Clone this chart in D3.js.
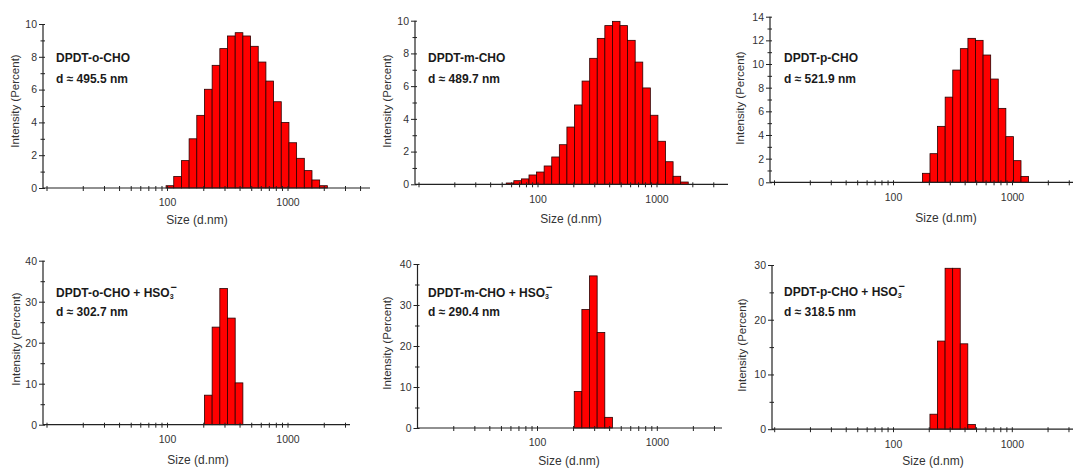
<!DOCTYPE html>
<html>
<head>
<meta charset="utf-8">
<script src="https://cdn.jsdelivr.net/npm/d3@7"></script>
<style>
  body { margin: 0; background: #fff; }
  svg text { font-family: "Liberation Sans", Arial, sans-serif; }
</style>
</head>
<body>
<div id="plot"></div>
<script>
// Size classes (d.nm) and intensity (%)
const sizesO = [105.7, 122.4, 141.8, 164.2, 190.1, 220.2, 255.0, 295.3, 342.0, 396.1, 458.7,
                531.2, 615.1, 712.4, 825.0, 955.4, 1106, 1281, 1484, 1718, 1990];
const intensityO = [0.14, 0.7, 1.67, 3.0, 4.43, 6.02, 7.48, 8.5, 9.27, 9.47, 9.27,
                    8.64, 7.68, 6.52, 5.26, 4.0, 2.76, 1.81, 1.06, 0.49, 0.14];

const sizesM = [58.77, 68.06, 78.82, 91.28, 105.7, 122.4, 141.8, 164.2, 190.1, 220.2, 255.0, 295.3,
                342.0, 396.1, 458.7, 531.2, 615.1, 712.4, 825.0, 955.4, 1106, 1281, 1484, 1718];
const intensityM = [0.08, 0.22, 0.33, 0.57, 0.75, 1.12, 1.67, 2.42, 3.5, 4.85, 6.31, 7.7,
                    8.92, 9.7, 9.96, 9.7, 8.8, 7.47, 5.89, 4.22, 2.63, 1.38, 0.49, 0.14];

const sizesP = [190.1, 220.2, 255.0, 295.3, 342.0, 396.1, 458.7, 531.2, 615.1, 712.4, 825.0, 955.4, 1106, 1281];
const intensityP = [0.76, 2.42, 4.73, 7.2, 9.49, 11.3, 12.17, 12.0, 10.76, 8.73, 6.25, 3.86, 1.83, 0.5];

const sizesOH = [220.2, 255.0, 295.3, 342.0, 396.1];
const intensityOH = [7.2, 23.8, 33.2, 26.0, 10.2];

const sizesMH = [220.2, 255.0, 295.3, 342.0, 396.1];
const intensityMH = [8.9, 28.9, 37.1, 23.3, 2.6];

const sizesPH = [220.2, 255.0, 295.3, 342.0, 396.1, 458.7];
const intensityPH = [2.74, 16.1, 29.4, 29.4, 15.6, 0.85];

// Tick values
const xTicks = [10, 20, 30, 40, 50, 60, 70, 80, 90, 100, 200, 300, 400, 500, 600, 700, 800, 900,
                1000, 2000, 3000, 4000, 5000];
const xTickLabels = [100, 1000];
const yMajor10 = [0, 2, 4, 6, 8, 10], yMinor10 = [1, 3, 5, 7, 9];
const yMajor14 = [0, 2, 4, 6, 8, 10, 12, 14], yMinor14 = [1, 3, 5, 7, 9, 11, 13];
const yMajor40 = [0, 10, 20, 30, 40], yMinor40 = [5, 15, 25, 35];
const yMajor30 = [0, 10, 20, 30], yMinor30 = [5, 15, 25];

const names = ["DPDT-o-CHO", "DPDT-m-CHO", "DPDT-p-CHO"];
const diameters = ["d \u2248 495.5 nm", "d \u2248 489.7 nm", "d \u2248 521.9 nm",
                   "d \u2248 302.7 nm", "d \u2248 290.4 nm", "d \u2248 318.5 nm"];

// Panel layout (pixel positions copied from the composite figure)
const panels = [
  { name: names[0], d: diameters[0], sizes: sizesO, values: intensityO, yMax: 10, major: yMajor10, minor: yMinor10,
    L: { x0: 43, x100: 167, decade: 120.5, xEnd: 370, y0: 188, yTop: 24, tx: 56, ty: 62, ty2: 83, xtX: 197, xtY: 224, ytX: 15, ytY: 101 } },
  { name: names[1], d: diameters[1], sizes: sizesM, values: intensityM, yMax: 10, major: yMajor10, minor: yMinor10,
    L: { x0: 415, x100: 537.5, decade: 119, xEnd: 728, y0: 184.3, yTop: 20.7, tx: 428, ty: 62, ty2: 83, xtX: 571, xtY: 223, ytX: 387, ytY: 101 } },
  { name: names[2], d: diameters[2], sizes: sizesP, values: intensityP, yMax: 14, major: yMajor14, minor: yMinor14,
    L: { x0: 770, x100: 893, decade: 119, xEnd: 1073, y0: 182.3, yTop: 16.7, tx: 784, ty: 62, ty2: 83, xtX: 946, xtY: 222, ytX: 740, ytY: 98 } },
  { name: names[0], hso: true, d: diameters[3], sizes: sizesOH, values: intensityOH, yMax: 40, major: yMajor40, minor: yMinor40,
    L: { x0: 43, x100: 167, decade: 120.5, xEnd: 350, y0: 424.7, yTop: 260.7, tx: 56, ty: 297, ty2: 316, xtX: 198, xtY: 464, ytX: 16, ytY: 339 } },
  { name: names[1], hso: true, d: diameters[4], sizes: sizesMH, values: intensityMH, yMax: 40, major: yMajor40, minor: yMinor40,
    L: { x0: 417.5, x100: 537, decade: 119.8, xEnd: 722, y0: 428, yTop: 264, tx: 428, ty: 297, ty2: 316, xtX: 569, xtY: 465, ytX: 387, ytY: 343 } },
  { name: names[2], hso: true, d: diameters[5], sizes: sizesPH, values: intensityPH, yMax: 30, major: yMajor30, minor: yMinor30,
    L: { x0: 772, x100: 893, decade: 118.8, xEnd: 1073, y0: 429.2, yTop: 265, tx: 784, ty: 296, ty2: 316, xtX: 933, xtY: 465, ytX: 742, ytY: 345 } }
];

const svg = d3.select("#plot")
  .append("svg")
  .attr("width", 1073)
  .attr("height", 468);

panels.forEach(p => {
  const L = p.L;
  const ref = d3.scaleLog().domain([100, 1000]).range([L.x100, L.x100 + L.decade]);
  const x = d3.scaleLog()
    .domain([ref.invert(L.x0), ref.invert(L.xEnd)])
    .range([L.x0, L.xEnd]);
  const y = d3.scaleLinear().domain([0, p.yMax]).range([L.y0, L.yTop]);

  const g = svg.append("g");

  // bars: edges at geometric midpoints between neighbouring size classes
  const bars = p.sizes.map((s, i) => {
    const prev = i > 0 ? p.sizes[i - 1] : s * s / p.sizes[i + 1];
    const next = i < p.sizes.length - 1 ? p.sizes[i + 1] : s * s / p.sizes[i - 1];
    return { lo: Math.sqrt(prev * s), hi: Math.sqrt(s * next), v: p.values[i] };
  });

  g.selectAll("rect")
    .data(bars)
    .join("rect")
    .attr("x", d => x(d.lo))
    .attr("width", d => x(d.hi) - x(d.lo))
    .attr("y", d => y(d.v))
    .attr("height", d => y(0) - y(d.v))
    .attr("fill", "#ff0000")
    .attr("stroke", "#2a0000")
    .attr("stroke-width", 0.8);

  // x axis
  const xAxis = g.append("g")
    .attr("transform", `translate(0,${L.y0})`)
    .call(d3.axisBottom(x)
      .tickValues(xTicks.filter(t => x(t) >= L.x0 + 1 && x(t) <= L.xEnd))
      .tickSize(3)
      .tickPadding(8)
      .tickFormat(d => xTickLabels.includes(d) ? d : ""));
  xAxis.attr("font-family", null).attr("font-size", null);
  xAxis.select(".domain").remove();
  xAxis.selectAll(".tick line").attr("y1", -2).attr("stroke", "#222");
  xAxis.selectAll(".tick text").attr("fill", "#333").style("font-size", "10.5px");

  g.append("line")
    .attr("x1", L.x0).attr("x2", L.xEnd)
    .attr("y1", L.y0).attr("y2", L.y0)
    .attr("stroke", "#222").attr("stroke-width", 1.2);

  // y axis
  const yAxis = g.append("g")
    .attr("transform", `translate(${L.x0},0)`)
    .call(d3.axisLeft(y)
      .tickValues(p.major.concat(p.minor))
      .tickSize(4)
      .tickPadding(2)
      .tickFormat(d => p.major.includes(d) ? d : ""));
  yAxis.attr("font-family", null).attr("font-size", null);
  yAxis.select(".domain").remove();
  yAxis.selectAll(".tick line")
    .attr("x1", 2)
    .attr("x2", d => p.major.includes(d) ? -4 : -2.5)
    .attr("stroke", "#222");
  yAxis.selectAll(".tick text").attr("fill", "#333").style("font-size", "10.5px");

  g.append("line")
    .attr("x1", L.x0).attr("x2", L.x0)
    .attr("y1", L.y0).attr("y2", L.yTop)
    .attr("stroke", "#222").attr("stroke-width", 1.2);

  // axis titles
  g.append("text")
    .attr("x", L.xtX).attr("y", L.xtY)
    .attr("text-anchor", "middle")
    .attr("fill", "#333")
    .style("font-size", "12px")
    .text("Size (d.nm)");

  g.append("text")
    .attr("transform", `translate(${L.ytX},${L.ytY}) rotate(-90)`)
    .attr("text-anchor", "middle")
    .attr("dy", "0.35em")
    .attr("fill", "#333")
    .style("font-size", "11.5px")
    .text("Intensity (Percent)");

  // sample annotation
  const t1 = g.append("text")
    .attr("x", L.tx).attr("y", L.ty)
    .attr("fill", "#1a1a1a")
    .style("font-size", "12px")
    .style("font-weight", "bold")
    .text(p.name);
  if (p.hso) {
    t1.append("tspan").text(" + HSO");
    t1.append("tspan").attr("dy", 2).style("font-size", "7px").text("3");
    t1.append("tspan").attr("dx", -3).attr("dy", -8.5).style("font-size", "11px").text("\u2212");
  }

  g.append("text")
    .attr("x", L.tx).attr("y", L.ty2)
    .attr("fill", "#1a1a1a")
    .style("font-size", "12px")
    .style("font-weight", "bold")
    .text(p.d);
});
</script>
</body>
</html>
